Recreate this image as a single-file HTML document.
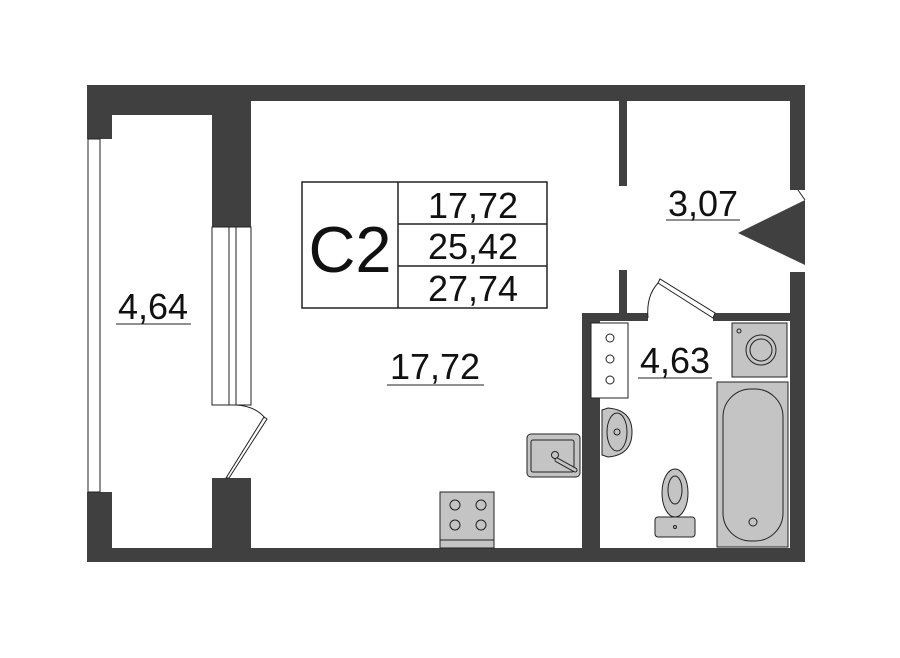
<!DOCTYPE html>
<html><head><meta charset="utf-8"><style>html,body{margin:0;padding:0;background:#fff}svg{display:block}text{font-family:"Liberation Sans",sans-serif;fill:#111}</style></head>
<body>
<svg width="900" height="658" viewBox="0 0 900 658" xmlns="http://www.w3.org/2000/svg">
<g fill="#404040">
<rect x="87" y="85" width="718" height="16"/>
<rect x="87" y="85" width="164" height="30"/>
<rect x="87" y="85" width="25" height="54"/>
<rect x="87" y="548" width="718" height="14"/>
<rect x="87" y="492" width="25" height="70"/>
<rect x="212" y="85" width="39" height="142"/>
<rect x="212" y="478" width="39" height="84"/>
<rect x="790" y="85" width="15" height="105"/>
<rect x="790" y="272" width="15" height="290"/>
<polygon points="738,233 805,200 805,265"/>
<rect x="619" y="101" width="8" height="85"/>
<rect x="619" y="270" width="8" height="51"/>
<rect x="582" y="313" width="66" height="8"/>
<rect x="713" y="313" width="77" height="8"/>
<rect x="582" y="313" width="18" height="249"/>
</g>
<g fill="#fff" stroke="#222" stroke-width="1">
<rect x="88" y="139" width="12" height="353"/>
<rect x="212" y="227" width="39" height="178"/>
<line x1="229" y1="227" x2="229" y2="405"/>
<line x1="236" y1="227" x2="236" y2="405"/>
<polygon points="226,478 229,478 267,419 264,417"/>
<path d="M236,405 Q255,406 265,418" fill="none"/>
<polygon points="658,283 660,279 715,313 713,318"/>
<path d="M648,318 Q646,296 658,283" fill="none"/>
<line x1="798" y1="190" x2="805" y2="200"/>
<rect x="302" y="182" width="245" height="126" fill="none" stroke-width="1.5"/>
<line x1="398" y1="182" x2="398" y2="308" stroke-width="1.5"/>
<line x1="398" y1="224" x2="547" y2="224" stroke-width="1.5"/>
<line x1="398" y1="266" x2="547" y2="266" stroke-width="1.5"/>
<rect x="591" y="323" width="37" height="75"/>
<circle cx="610" cy="338" r="4"/><circle cx="610" cy="359" r="4"/><circle cx="610" cy="380" r="4"/>
</g>
<g fill="#c4c4c4" stroke="#222" stroke-width="1">
<rect x="732" y="323" width="55" height="54"/>
<circle cx="761" cy="350" r="15"/><circle cx="761" cy="350" r="11"/>
<circle cx="739" cy="331" r="2"/>
<rect x="717" y="382" width="71" height="165"/>
<rect x="723" y="389" width="60" height="152" rx="28"/>
<circle cx="753" cy="522" r="4" fill="none"/>
<path d="M602,410 L608,408 Q632,410 632,432 Q632,455 608,457 L602,455 Z"/>
<ellipse cx="617" cy="432" rx="10" ry="19"/>
<circle cx="617" cy="432" r="3" fill="none"/>
<ellipse cx="675" cy="493" rx="13" ry="24"/>
<ellipse cx="675" cy="490" rx="7" ry="14"/>
<rect x="655" y="517" width="40" height="20" rx="3"/>
<circle cx="675" cy="527" r="1.5"/>
<rect x="527" y="434" width="53" height="43" rx="4"/>
<rect x="531" y="440" width="43" height="32" rx="2"/>
<circle cx="555" cy="455" r="3.5"/>
<path d="M557,460 L575,470" stroke-width="5" stroke-linecap="round"/>
<path d="M557,460 L575,470" stroke="#c4c4c4" stroke-width="3" stroke-linecap="round"/>
<rect x="440" y="492" width="54" height="56"/>
<line x1="440" y1="540" x2="494" y2="540"/>
<circle cx="455" cy="505" r="5"/><circle cx="481" cy="505" r="5"/>
<circle cx="455" cy="525" r="5"/><circle cx="481" cy="525" r="5"/>
</g>
<text x="350" y="272" font-size="65" text-anchor="middle">C2</text>
<text x="473" y="218" font-size="36" text-anchor="middle">17,72</text>
<text x="473" y="259" font-size="36" text-anchor="middle">25,42</text>
<text x="473" y="301" font-size="36" text-anchor="middle">27,74</text>
<text x="435" y="379" font-size="36" text-anchor="middle">17,72</text>
<line x1="387" y1="385" x2="484" y2="385" stroke="#222"/>
<text x="153" y="319" font-size="36" text-anchor="middle">4,64</text>
<line x1="116" y1="324" x2="191" y2="324" stroke="#222"/>
<text x="703" y="216" font-size="36" text-anchor="middle">3,07</text>
<line x1="666" y1="220" x2="740" y2="220" stroke="#222"/>
<text x="675" y="373" font-size="36" text-anchor="middle">4,63</text>
<line x1="638" y1="378" x2="712" y2="378" stroke="#222"/>
</svg>
</body></html>
